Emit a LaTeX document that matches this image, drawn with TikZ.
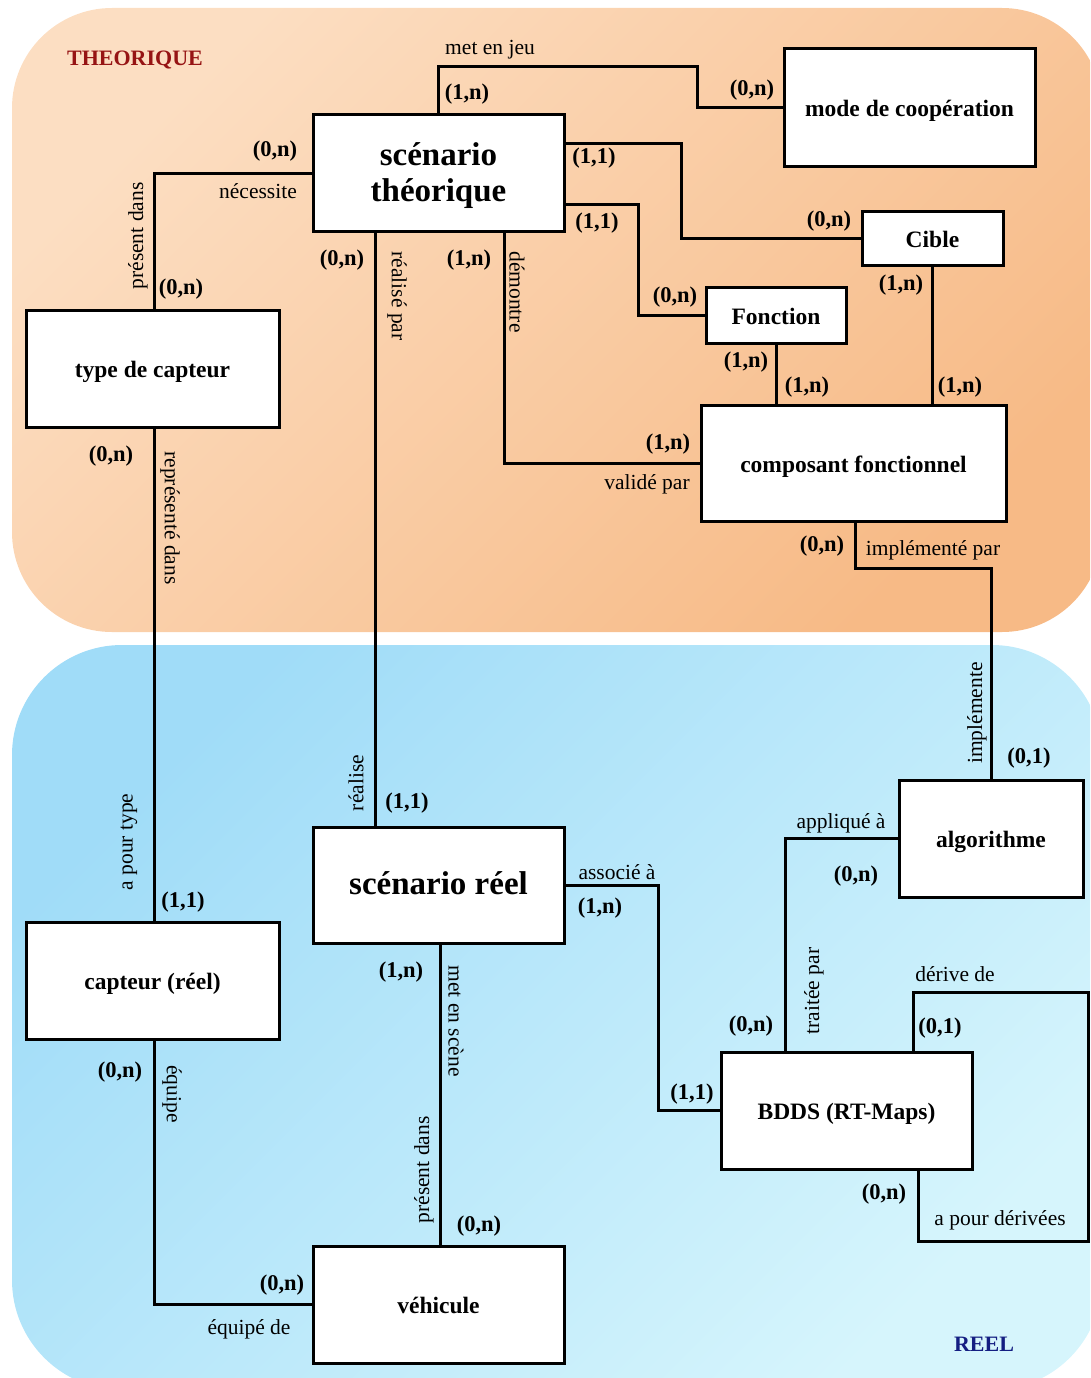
\documentclass[tikz,border=0pt]{standalone}
\usepackage{fontspec}
\setmainfont{Liberation Serif}
\definecolor{orlight}{RGB}{252,222,194}
\definecolor{ordark}{RGB}{247,186,134}
\definecolor{bllight}{RGB}{214,245,252}
\definecolor{bldark}{RGB}{160,220,248}
\definecolor{theo}{RGB}{150,20,20}
\definecolor{reel}{RGB}{20,30,130}
\begin{document}
\begin{tikzpicture}[x=1pt,y=-1pt,
  entbase/.style={draw, line width=3pt, fill=white, inner sep=0pt, align=center,
    font=\fontsize{23.5}{25}\selectfont\bfseries},
  ent/.style={entbase, text height=20pt, text depth=2pt},
  big/.style={font=\fontsize{33}{37}\selectfont\bfseries},
  conn/.style={line width=3pt},
  card/.style={inner sep=0pt, font=\fontsize{22.5}{23}\selectfont\bfseries},
  rel/.style={inner sep=0pt, font=\fontsize{21.5}{23}\selectfont},
  zone/.style={inner sep=0pt, font=\fontsize{22}{24}\selectfont\bfseries}]
\useasboundingbox (0,0) rectangle (1090,1378);
% backgrounds
\begin{scope}
\clip (0,0) rectangle (1090,1378);
\shade[rounded corners=100pt, top color=orlight, bottom color=ordark, shading angle=45]
  (12,8) rectangle (1102,632);
\shade[rounded corners=110pt, top color=bldark, bottom color=bllight, shading angle=45]
  (12,645) rectangle (1102,1390);
\end{scope}
\node[zone, text=theo] (zt) at (135,60) {THEORIQUE};
\node[zone, text=reel] (zr) at (984,1344) {REEL};
% entities
\node[entbase, big, minimum width=251pt, minimum height=116pt] (st) at (438.5,173) {\rule{0pt}{29pt}scénario\\[-1pt]théorique};
\node[ent, minimum width=251pt, minimum height=117pt] (mode) at (909.5,107.5) {mode de coopération};
\node[ent, minimum width=141pt, minimum height=54pt] (cible) at (932.5,238) {Cible};
\node[ent, minimum width=140pt, minimum height=56pt] (fonction) at (776,315) {Fonction};
\node[ent, minimum width=253pt, minimum height=117pt] (type) at (152.5,368.5) {type de capteur};
\node[ent, minimum width=305pt, minimum height=116pt] (cf) at (853.5,463) {composant fonctionnel};
\node[ent, minimum width=184pt, minimum height=117pt] (algo) at (991,838.5) {algorithme};
\node[ent, big, minimum width=251pt, minimum height=116pt] (sr) at (438.5,885) {scénario réel};
\node[ent, minimum width=253pt, minimum height=117pt] (capteur) at (152.5,980.5) {capteur (réel)};
\node[ent, minimum width=251pt, minimum height=117pt] (bdds) at (846.5,1110.5) {BDDS (RT-Maps)};
\node[ent, minimum width=251pt, minimum height=117pt] (veh) at (438.5,1304.5) {véhicule};
% bend coordinates
\coordinate (c1) at (697,67);
\coordinate (c2) at (681,143);
\coordinate (c3) at (638,204);
\coordinate (c4) at (154,173);
\coordinate (c5) at (375,0);
\coordinate (c6) at (504,0);
\coordinate (c9) at (855,568);
\coordinate (c11) at (658,886);
\coordinate (c12) at (785,0);
\coordinate (c13a) at (913,992);
\coordinate (c13b) at (1088,1241);
\coordinate (c13c) at (918,0);
\coordinate (c14) at (440,0);
% connectors
\draw[conn] (st.north) |- (c1) |- (mode.west);
\draw[conn] (st.east |- c2) -- (c2) |- (cible.west);
\draw[conn] (st.east |- c3) -- (c3) |- (fonction.west);
\draw[conn] (st.west) -- (c4) -- (c4 |- type.north);
\draw[conn] (st.south -| c5) -- (sr.north -| c5);
\draw[conn] (st.south -| c6) |- (cf.west);
\draw[conn] (fonction.south) -- (fonction.south |- cf.north);
\draw[conn] (cible.south) -- (cible.south |- cf.north);
\draw[conn] (cf.south -| c9) -- (c9) -| (algo.north);
\draw[conn] (type.south -| c4) -- (capteur.north -| c4);
\draw[conn] (sr.east) -| (c11 |- bdds.west) -- (bdds.west);
\draw[conn] (algo.west) -| (bdds.north -| c12);
\draw[conn] (bdds.north -| c13a) -- (c13a) -| (c13b) -| (bdds.south -| c13c);
\draw[conn] (sr.south -| c14) -- (veh.north -| c14);
\draw[conn] (capteur.south -| c4) |- (veh.west);
% relation labels
\node[rel] (r1) at (490,50) {met en jeu};
\node[rel] (r2) at (258,191) {nécessite};
\node[rel] (r3) at (647,484) {validé par};
\node[rel] (r4) at (933,550) {implémenté par};
\node[rel] (r5) at (617,872) {associé à};
\node[rel] (r6) at (841,823) {appliqué à};
\node[rel] (r7) at (955,974) {dérive de};
\node[rel] (r8) at (1000,1220) {a pour dérivées};
\node[rel] (r9) at (249,1329) {équipé de};
\node[rel, rotate=90] (v1) at (138,236) {présent dans};
\node[rel, rotate=-90] (v2) at (397,296) {réalisé par};
\node[rel, rotate=-90] (v3) at (517,292) {démontre};
\node[rel, rotate=-90] (v4) at (170,518) {représenté dans};
\node[rel, rotate=90] (v5) at (129,842) {a pour type};
\node[rel, rotate=90] (v6) at (356,783) {réalise};
\node[rel, rotate=90] (v7) at (977,713) {implémente};
\node[rel, rotate=90] (v8) at (814,991) {traitée par};
\node[rel, rotate=-90] (v9) at (456,1021) {met en scène};
\node[rel, rotate=90] (v10) at (424,1170) {présent dans};
\node[rel, rotate=-90] (v11) at (172,1094) {équipe};
% cardinalities
\node[card] (k1) at (467,94) {(1,n)};
\node[card] (k2) at (752,90) {(0,n)};
\node[card] (k3) at (594,158) {(1,1)};
\node[card] (k4) at (829,221) {(0,n)};
\node[card] (k5) at (597,223) {(1,1)};
\node[card] (k6) at (675,297) {(0,n)};
\node[card] (k7) at (275,151) {(0,n)};
\node[card] (k8) at (181,289) {(0,n)};
\node[card] (k9) at (342,260) {(0,n)};
\node[card] (k10) at (469,260) {(1,n)};
\node[card] (k11) at (746,362) {(1,n)};
\node[card] (k12) at (807,387) {(1,n)};
\node[card] (k13) at (901,285) {(1,n)};
\node[card] (k14) at (960,387) {(1,n)};
\node[card] (k15) at (668,444) {(1,n)};
\node[card] (k16) at (822,546) {(0,n)};
\node[card] (k17) at (1029,758) {(0,1)};
\node[card] (k18) at (111,456) {(0,n)};
\node[card] (k19) at (183,902) {(1,1)};
\node[card] (k20) at (407,803) {(1,1)};
\node[card] (k21) at (600,908) {(1,n)};
\node[card] (k22) at (692,1094) {(1,1)};
\node[card] (k23) at (856,876) {(0,n)};
\node[card] (k24) at (751,1026) {(0,n)};
\node[card] (k25) at (940,1028) {(0,1)};
\node[card] (k26) at (884,1194) {(0,n)};
\node[card] (k27) at (401,972) {(1,n)};
\node[card] (k28) at (479,1226) {(0,n)};
\node[card] (k29) at (120,1072) {(0,n)};
\node[card] (k30) at (282,1285) {(0,n)};
\end{tikzpicture}
\end{document}
